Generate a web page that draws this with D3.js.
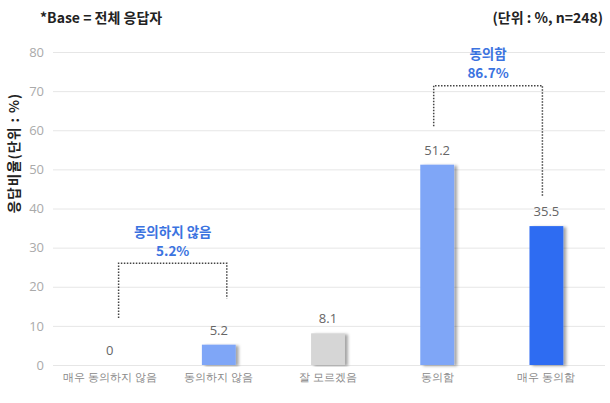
<!DOCTYPE html>
<html><head><meta charset="utf-8">
<script src="https://cdn.jsdelivr.net/npm/d3@7"></script>
<style>body{margin:0;background:#fff;}svg{display:block;font-family:"Noto Sans CJK KR","Noto Sans",sans-serif;}</style>
</head><body>
<svg id="c" width="610" height="403"></svg>
<script>
const categories = ["매우 동의하지 않음","동의하지 않음","잘 모르겠음","동의함","매우 동의함"];
const values = [0, 5.2, 8.1, 51.2, 35.5];
const barColors = ["#7fa6f7","#7fa6f7","#d6d6d6","#7fa6f7","#2f6cf2"];
const yTicks = [0,10,20,30,40,50,60,70,80];
const groupLabels = [["동의하지 않음","5.2%"],["동의함","86.7%"]];

const svg = d3.select("#c");
const x = d3.scaleBand().domain(categories).range([55,601]).paddingInner(0.69).paddingOuter(0.345);
const y = d3.scaleLinear().domain([0,80]).range([365,52]);

const defs = svg.append("defs");
const f = defs.append("filter").attr("id","sh").attr("x","-20%").attr("y","-5%").attr("width","160%").attr("height","110%");
f.append("feDropShadow").attr("dx",3).attr("dy",1).attr("stdDeviation",1.5).attr("flood-color","#000").attr("flood-opacity",0.35);

// gridlines
svg.append("g").selectAll("line").data(yTicks).join("line")
  .attr("x1",53).attr("x2",605).attr("y1",d=>y(d)+0.5).attr("y2",d=>y(d)+0.5)
  .attr("stroke","#e6e6e6").attr("stroke-width",1);

// y axis labels
const yAxis = d3.axisLeft(y).tickValues(yTicks).tickSize(0).tickPadding(0);
const ya = svg.append("g").attr("transform","translate(44,0)").call(yAxis);
ya.select(".domain").remove();
ya.selectAll("text").attr("fill","#aaa").attr("font-size",13).attr("font-family","'Open Sans',sans-serif");

// x axis labels
const xAxis = d3.axisBottom(x).tickSize(0).tickPadding(0);
const xa = svg.append("g").attr("transform","translate(0,374)").call(xAxis);
xa.select(".domain").remove();
xa.selectAll("text").attr("fill","#888").attr("font-size",10.5).attr("dy","0.71em");

// bars
svg.append("g").selectAll("rect").data(values).join("rect")
  .attr("x",(d,i)=>x(categories[i])).attr("width",x.bandwidth())
  .attr("y",d=>y(d)).attr("height",d=>y(0)-y(d))
  .attr("fill",(d,i)=>barColors[i]).attr("filter","url(#sh)")
  .style("display",d=>d>0?null:"none");

// value labels
svg.append("g").selectAll("text").data(values).join("text")
  .attr("x",(d,i)=>x(categories[i])+x.bandwidth()/2)
  .attr("y",d=>y(d)-10)
  .attr("text-anchor","middle").attr("fill","#666").attr("font-size",13)
  .attr("font-family","'Open Sans',sans-serif")
  .text(d=>d);

// brackets
const bw = x.bandwidth();
function bracket(xl, xr, topV, leftV, rightV){
  const p = d3.path();
  p.moveTo(xl, y(leftV)); p.lineTo(xl, y(topV)); p.lineTo(xr, y(topV)); p.lineTo(xr, y(rightV));
  svg.append("path").attr("d",p.toString()).attr("fill","none")
    .attr("stroke","#444").attr("stroke-width",1.5).attr("stroke-dasharray","1.5,1.5");
}
const c = i => x(categories[i]) + bw/2;
bracket(c(0)+9, c(1)+8, 26, 12, 17);
bracket(c(3)-3.5, c(4)-4, 71.4, 61, 43);

function glabel(cx, yTop, lines){
  lines.forEach((t,k)=>{
    svg.append("text").attr("x",cx).attr("y",yTop + k*19)
      .attr("text-anchor","middle").attr("fill","#3b73e0").attr("font-size",13.5).attr("font-weight","bold")
      .text(t);
  });
}
glabel((c(0)+9 + c(1)+8)/2, y(26)-26, groupLabels[0]);
glabel((c(3)-3.5 + c(4)-4)/2, y(71.4)-27, groupLabels[1]);

// y title
svg.append("text").attr("transform","translate(19,153) rotate(-90)")
  .attr("text-anchor","middle").attr("fill","#222").attr("font-size",13.5).attr("font-weight","bold")
  .attr("letter-spacing",1)
  .text("응답비율(단위 : %)");

// header
svg.append("text").attr("x",40).attr("y",23).attr("fill","#222").attr("font-size",14).attr("font-weight","bold")
  .text("*Base = 전체 응답자");
svg.append("text").attr("x",603).attr("y",23).attr("text-anchor","end").attr("fill","#222").attr("font-size",14).attr("font-weight","bold")
  .text("(단위 : %, n=248)");
</script>
</body></html>
